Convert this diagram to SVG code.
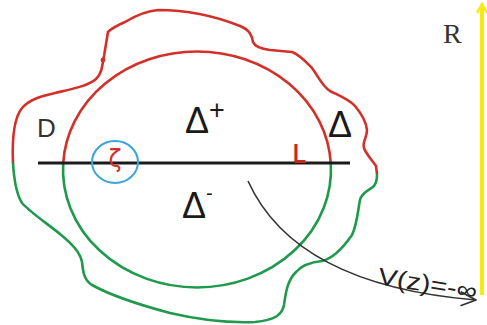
<svg xmlns="http://www.w3.org/2000/svg" width="487" height="325" viewBox="0 0 487 325">
<style>
.red{fill:none;stroke:#d3302a;stroke-width:2.6;stroke-linecap:round;stroke-linejoin:round}
.green{fill:none;stroke:#1f9a4c;stroke-width:2.6;stroke-linecap:round;stroke-linejoin:round}
.lbl{font-family:"Liberation Sans",Arial,sans-serif;fill:#1a1a1a}
.dark{fill:#333}
</style>
<defs>
<marker id="chev" viewBox="0 0 20 16" refX="18" refY="8" markerWidth="20" markerHeight="16" markerUnits="userSpaceOnUse" orient="auto">
<path d="M2,1 L18,8 L3,15" fill="none" stroke="#333" stroke-width="1.8" stroke-linejoin="round"/>
</marker>
</defs>
<rect width="487" height="325" fill="#fff"/>
<g id="region-D">
<path class="red" d="M13,163 C12,140 14,118 22,108 C30,99 42,96 55,93 C72,89 88,86 96,79 C103,72 102,64 104,56 L108,32 C112,28 118,25 125,22 C135,16 145,11 158,10 C185,10 215,16 240,26 C250,30 252,36 253,42 C255,47 262,49 270,50 L292,52 C300,55 306,62 312,68 C318,76 322,86 330,91 C340,96 350,100 355,106 C360,112 366,120 367,130 C367,138 362,142 364,148 C366,154 372,160 376,166 L377,174"/>
<circle cx="103" cy="60" r="2.4" fill="#d3302a"/>
<path class="green" d="M13,163 C14,180 17,195 22,203 C30,212 45,222 60,234 C72,244 80,252 82,262 C83,272 84,280 92,285 C110,295 140,305 170,313 C200,320 230,323 255,322 C275,320 282,315 284,305 C286,290 288,280 296,272 C303,264 312,262 322,261 C335,258 345,245 352,235 C357,225 358,210 360,200 C362,192 370,190 374,186 C377,182 377,178 377,175"/>
<text class="lbl dark" x="37" y="137" font-size="26">D</text>
</g>
<g id="disk">
<path class="red" d="M63.2,163 A134,118 0 0 1 330.8,163"/>
<path class="green" d="M330.8,163 A134,118 0 1 1 63.2,163"/>
<text class="lbl" x="185" y="133" font-size="36">Δ</text>
<text class="lbl" x="209" y="119" font-size="27">+</text>
<text class="lbl" x="182" y="218" font-size="36">Δ</text>
<text class="lbl" x="206" y="200" font-size="20">-</text>
<text class="lbl" x="328" y="137" font-size="36">Δ</text>
</g>
<g id="line-L">
<line x1="38" y1="163" x2="350" y2="163" stroke="#1a1a1a" stroke-width="3"/>
<text x="293" y="163" font-family="'Liberation Sans',Arial,sans-serif" font-size="27" font-weight="bold" fill="#c8281f" textLength="13" lengthAdjust="spacingAndGlyphs">L</text>
</g>
<g id="zeta">
<ellipse cx="115" cy="162" rx="23" ry="21" fill="none" stroke="#3ba3dc" stroke-width="2"/>
<text x="115" y="167" font-family="'DejaVu Sans',sans-serif" font-size="24" fill="#d3302a" text-anchor="middle">ζ</text>
</g>
<g id="axis-R">
<text x="443" y="43" font-family="'Liberation Serif','Times New Roman',serif" font-size="28" fill="#333">R</text>
</g>
<g id="connectors">
<path d="M248,181 Q295,285 476,300" fill="none" stroke="#333" stroke-width="1.6" marker-end="url(#chev)"/>
<path d="M482,295 L482,5" fill="none" stroke="#f7ea12" stroke-width="4"/>
<path d="M477,13 L482,4 L487,13" fill="none" stroke="#f7ea12" stroke-width="2.5"/>
</g>
<text transform="translate(377,284) rotate(9)" x="0" y="0" font-family="'Liberation Sans',Arial,sans-serif" font-size="24" fill="#222" textLength="100" lengthAdjust="spacingAndGlyphs">V(z)=-∞</text>
</svg>
